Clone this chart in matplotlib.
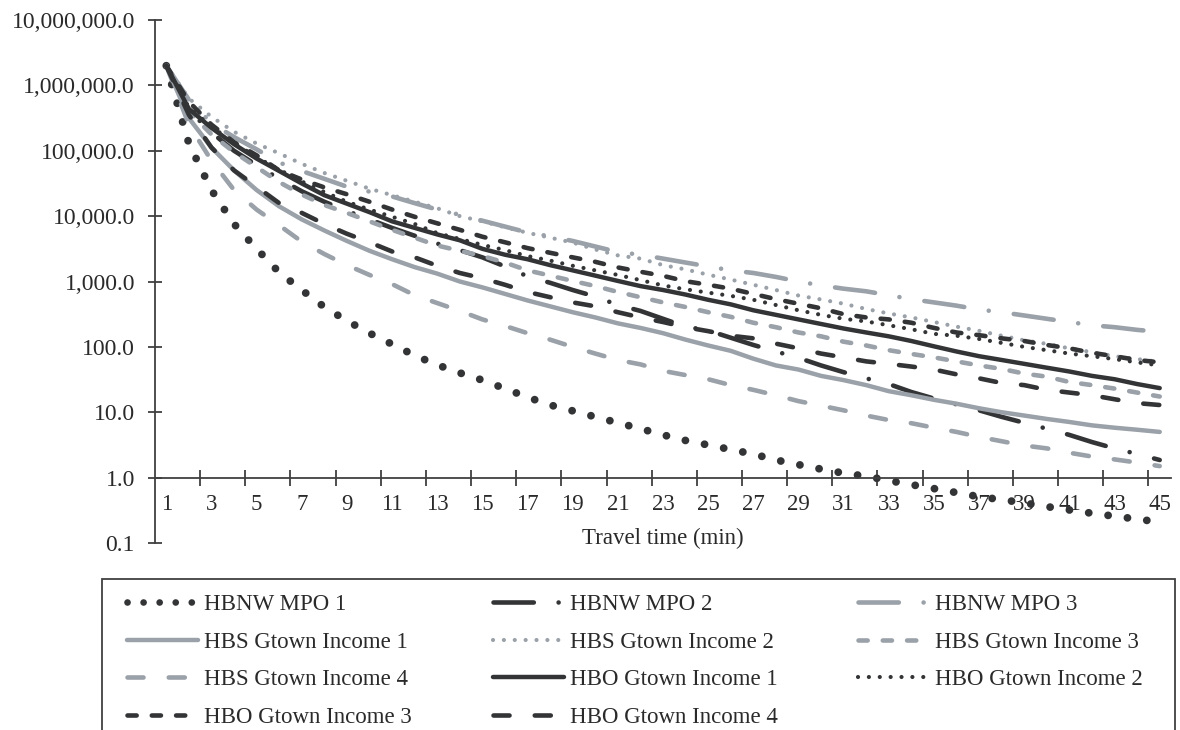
import matplotlib.pyplot as plt
from matplotlib.patches import Rectangle
from matplotlib.ticker import FuncFormatter, NullLocator
from matplotlib.legend_handler import HandlerLine2D

plt.rcParams['font.family'] = ['Liberation Serif', 'DejaVu Serif']

# travel time categories (min) and the labels shown on the axis
minutes = list(range(1, 46))
x_labels = [str(m) for m in range(1, 46, 2)]

# friction factors, one value per minute
hbnw_mpo_1 = [2000000, 129000, 25000, 7600, 3160, 1380, 740, 407, 251, 162,
              110, 74, 53, 40, 31, 23, 17, 12.9, 10.5, 8.5,
              6.9, 5.6, 4.5, 3.7, 3.16, 2.69, 2.29, 1.86, 1.58, 1.35,
              1.17, 1.05, 0.90, 0.78, 0.68, 0.59, 0.51, 0.46, 0.41, 0.36,
              0.32, 0.285, 0.257, 0.232, 0.209]
hbnw_mpo_2 = [2000000, 417000, 190500, 100000, 60300, 37200, 24000, 16600, 12000, 8900,
              6600, 5010, 3800, 3020, 2340, 1700, 1200, 955, 741, 589,
              437, 355, 269, 204, 178, 138, 107, 85, 68, 52,
              41, 33, 27, 20.4, 16.2, 13.2, 10.7, 8.5, 6.9, 5.6,
              4.5, 3.5, 2.8, 2.3, 1.86]
hbnw_mpo_3 = [2000000, 603000, 263000, 162000, 105000, 66100, 49000, 37200, 28200, 23700,
              20000, 15800, 12600, 10500, 8510, 6920, 5620, 4900, 4170, 3430,
              2820, 2570, 2240, 1950, 1700, 1480, 1350, 1175, 1000, 871,
              776, 708, 617, 537, 479, 427, 372, 339, 302, 269,
              240, 214, 200, 182, 170]
hbs_inc_1 = [2000000, 316000, 112000, 50100, 25100, 14100, 8910, 6030, 4170, 2950,
             2190, 1660, 1320, 1000, 813, 646, 513, 417, 339, 282,
             229, 195, 162, 129, 105, 87, 66, 52, 45, 36,
             31, 26, 21, 18.2, 15.5, 13.5, 11.5, 10.0, 8.9, 7.9,
             7.1, 6.3, 5.8, 5.4, 5.0]
hbs_inc_2 = [2000000, 631000, 331000, 195000, 129000, 91200, 63100, 45700, 34700, 26300,
             20900, 16600, 13200, 10000, 8320, 6760, 5560, 4680, 3940, 3090,
             2510, 2240, 1780, 1530, 1270, 1070, 891, 741, 610, 531,
             457, 380, 324, 282, 240, 204, 176, 148, 126, 111,
             95, 83, 72, 65, 59]
hbs_inc_3 = [2000000, 398000, 178000, 95500, 56200, 33100, 21400, 14800, 11200, 8320,
             6170, 4680, 3550, 2950, 2450, 1950, 1480, 1230, 1020, 851,
             692, 575, 479, 407, 339, 288, 234, 200, 166, 145,
             120, 105, 89, 78, 69, 60, 52, 46, 39, 35,
             29, 26, 23, 20, 17.4]
hbs_inc_4 = [2000000, 251000, 70800, 25100, 12600, 7240, 4070, 2630, 1780, 1260,
             912, 617, 468, 355, 263, 209, 162, 129, 100, 79,
             63, 54, 43, 37, 32, 26, 22, 18.2, 14.8, 12.6,
             10.7, 8.9, 7.6, 6.8, 5.8, 5.0, 4.2, 3.6, 3.1, 2.8,
             2.4, 2.1, 1.9, 1.7, 1.5]
hbo_inc_1 = [2000000, 437000, 224000, 126000, 75900, 49000, 31600, 20900, 15500, 11500,
             8320, 6610, 5250, 4270, 3160, 2570, 2190, 1780, 1480, 1230,
             1020, 851, 741, 631, 525, 447, 363, 309, 263, 224,
             191, 166, 145, 123, 102, 85, 72, 63, 55, 48,
             42, 36, 32, 27, 23.4]
hbo_inc_2 = [2000000, 457000, 234000, 132000, 79400, 51300, 33900, 23400, 16600, 12600,
             9770, 7590, 5500, 4470, 3630, 3020, 2450, 2090, 1740, 1480,
             1260, 1050, 871, 759, 676, 603, 525, 437, 363, 309,
             269, 245, 214, 186, 158, 148, 132, 115, 100, 89,
             79, 72, 65, 58, 52]
hbo_inc_3 = [2000000, 562000, 251000, 135000, 85100, 50100, 36300, 27500, 21600, 16600,
             12600, 9770, 7760, 6170, 4840, 3980, 3240, 2750, 2340, 2000,
             1640, 1410, 1220, 1010, 891, 776, 646, 537, 457, 389,
             316, 282, 263, 234, 195, 166, 151, 135, 123, 107,
             95, 81, 72, 63, 58]
hbo_inc_4 = [2000000, 355000, 112000, 50100, 28200, 15800, 11200, 7590, 5370, 3980,
             2880, 2340, 1740, 1350, 1120, 891, 692, 575, 479, 417,
             339, 282, 240, 200, 174, 148, 135, 112, 95, 79,
             69, 60, 55, 50, 45, 38, 33, 28, 26, 22,
             20, 18.2, 15.8, 13.8, 12.9]

dark = '#333436'
grey = '#9aa1a9'
axis_col = '#404040'
text_col = '#2a2a2a'

# dash patterns are in units of line width
dot_big = (0, (0.01, 2.5))
dot_small = (0, (0.01, 2.6))
dash = (0, (2.0, 3.3))
long_dash = (0, (3.5, 5.5))
long_dash_dot = (0, (8.8, 5.4, 0.01, 5.5))

series = [
    ('HBNW MPO 1', hbnw_mpo_1, dark, 5.6, dot_big),
    ('HBNW MPO 2', hbnw_mpo_2, dark, 3.3, long_dash_dot),
    ('HBNW MPO 3', hbnw_mpo_3, grey, 3.3, long_dash_dot),
    ('HBS Gtown Income 1', hbs_inc_1, grey, 3.2, '-'),
    ('HBS Gtown Income 2', hbs_inc_2, grey, 3.0, dot_small),
    ('HBS Gtown Income 3', hbs_inc_3, grey, 3.3, dash),
    ('HBS Gtown Income 4', hbs_inc_4, grey, 3.3, long_dash),
    ('HBO Gtown Income 1', hbo_inc_1, dark, 3.2, '-'),
    ('HBO Gtown Income 2', hbo_inc_2, dark, 3.0, dot_small),
    ('HBO Gtown Income 3', hbo_inc_3, dark, 3.3, dash),
    ('HBO Gtown Income 4', hbo_inc_4, dark, 3.3, long_dash),
]

W, H = 1180, 730
fig = plt.figure(figsize=(W / 100, H / 100), dpi=100)
ax = fig.add_axes([155 / W, 1 - 543 / H, (1171 - 155) / W, (543 - 20) / H])

lines = {}
for name, vals, col, lw, ls in series:
    ln, = ax.plot(minutes, vals, color=col, lw=lw, linestyle=ls,
                  dash_capstyle='round', solid_capstyle='round',
                  solid_joinstyle='round', dash_joinstyle='round', label=name)
    lines[name] = ln

ax.set_yscale('log')
ax.set_ylim(0.1, 1e7)
ax.set_xlim(0.5, 45.5)
ax.set_yticks([10.0 ** k for k in range(-1, 8)])
ax.yaxis.set_major_formatter(FuncFormatter(lambda v, p: f'{v:,.1f}'))
ax.yaxis.set_minor_locator(NullLocator())
ax.set_xticks(range(1, 46, 2))
ax.set_xticklabels(x_labels)
ax.set_xticks([k + 0.5 for k in range(2, 45, 2)], minor=True)

ax.tick_params(axis='x', which='major', length=0, pad=12, labelsize=16.5, labelcolor=text_col)
ax.tick_params(axis='x', which='minor', direction='inout', length=11, width=1.3, color=axis_col)
ax.tick_params(axis='y', which='major', direction='inout', length=10, width=1.3,
               color=axis_col, pad=9.4, labelsize=17, labelcolor=text_col)

for s in ['top', 'right']:
    ax.spines[s].set_visible(False)
for s in ['left', 'bottom']:
    ax.spines[s].set_color(axis_col)
    ax.spines[s].set_linewidth(1.3)
ax.spines['bottom'].set_position(('data', 1.0))

ax.set_xlabel('Travel time (min)', fontsize=16.5, color=text_col, labelpad=9)


# the big round dots sit a little closer together in the legend sample
def legend_dots(legend_line, orig):
    legend_line.update_from(orig)
    legend_line.set_linewidth(4.8)
    legend_line.set_linestyle((0, (0.01, 2.4)))


handlers = {lines['HBNW MPO 1']: HandlerLine2D(update_func=legend_dots)}

# legend: three columns inside one box that runs off the bottom edge
legend_cols = [
    (127, ['HBNW MPO 1', 'HBS Gtown Income 1', 'HBS Gtown Income 4', 'HBO Gtown Income 3']),
    (493, ['HBNW MPO 2', 'HBS Gtown Income 2', 'HBO Gtown Income 1', 'HBO Gtown Income 4']),
    (858, ['HBNW MPO 3', 'HBS Gtown Income 3', 'HBO Gtown Income 2']),
]
for x0, names in legend_cols:
    leg = fig.legend([lines[n] for n in names], names, loc='upper left',
                     bbox_to_anchor=(x0 / W, 1 - 594 / H), frameon=False,
                     fontsize=16.5, handlelength=3.1, handletextpad=0.25,
                     labelspacing=0.72, borderpad=0, borderaxespad=0,
                     handler_map=handlers)
    for t in leg.get_texts():
        t.set_color(text_col)

fig.add_artist(Rectangle((102 / W, -0.1), (1175 - 102) / W, 0.1 + (1 - 579 / H),
                         transform=fig.transFigure, fill=False,
                         edgecolor=axis_col, linewidth=1.3))

fig.savefig('out.png', dpi=100)
